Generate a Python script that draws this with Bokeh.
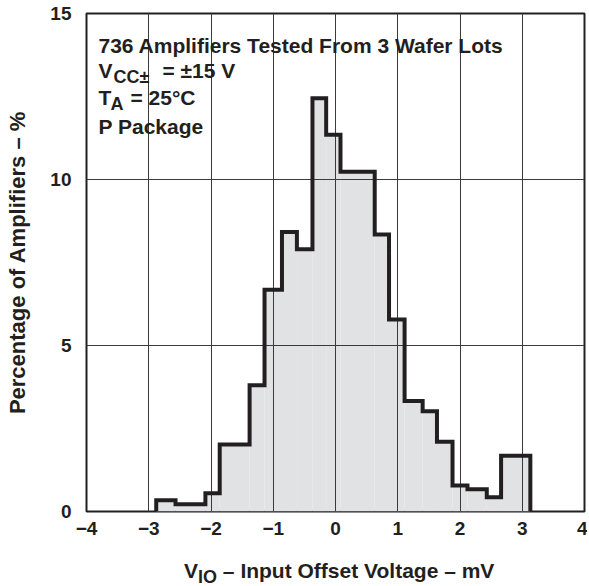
from bokeh.plotting import figure
from bokeh.models import Label, FixedTicker, Div
from bokeh.layouts import column
from bokeh.embed import file_html
from bokeh.resources import INLINE

# ---- data ----
bin_edges = [-2.88, -2.57, -2.09, -1.86, -1.38, -1.14, -0.86, -0.62, -0.37, -0.15,
             0.08, 0.63, 0.86, 1.11, 1.40, 1.63, 1.88, 2.12, 2.43, 2.66, 3.13]
percentages = [0.34, 0.22, 0.55, 2.02, 3.80, 6.68, 8.42, 7.90, 12.45, 11.35,
               10.23, 8.34, 5.78, 3.33, 3.02, 2.10, 0.78, 0.67, 0.43, 1.68]
x_ticks = [-4, -3, -2, -1, 0, 1, 2, 3, 4]
x_tick_labels = ["−4", "−3", "−2", "−1", "0", "1", "2", "3", "4"]
y_ticks = [0, 5, 10, 15]
y_tick_labels = ["0", "5", "10", "15"]

INK = "#231f20"
FONT = "Liberation Sans"

p = figure(frame_width=498, frame_height=498,
           min_border_left=86, min_border_right=3,
           min_border_top=13, min_border_bottom=45,
           x_range=(-4, 4), y_range=(0, 15),
           output_backend="svg", toolbar_location=None,
           background_fill_color="white", border_fill_color="white")

p.outline_line_color = INK
p.outline_line_width = 2

for ax in (p.xaxis[0], p.yaxis[0]):
    ax.axis_line_color = None
    ax.major_tick_line_color = None
    ax.minor_tick_line_color = None
    ax.major_label_text_font = FONT
    ax.major_label_text_font_style = "bold"
    ax.major_label_text_font_size = "19px"
    ax.major_label_text_color = INK

p.xaxis[0].ticker = FixedTicker(ticks=x_ticks)
p.xaxis[0].major_label_overrides = dict(zip(x_ticks, x_tick_labels))
p.xaxis[0].major_label_standoff = 4
p.yaxis[0].ticker = FixedTicker(ticks=y_ticks)
p.yaxis[0].major_label_overrides = dict(zip(y_ticks, y_tick_labels))
p.yaxis[0].major_label_standoff = 9

# y axis title through the axis itself
p.yaxis[0].axis_label = "Percentage of Amplifiers – %"
p.yaxis[0].axis_label_text_font = FONT
p.yaxis[0].axis_label_text_font_style = "bold"
p.yaxis[0].axis_label_text_font_size = "22px"
p.yaxis[0].axis_label_text_color = INK
p.yaxis[0].axis_label_standoff = 17

p.xgrid[0].ticker = FixedTicker(ticks=x_ticks)
p.ygrid[0].ticker = FixedTicker(ticks=y_ticks)
for g in (p.xgrid[0], p.ygrid[0]):
    g.grid_line_color = "#3a3a3a"
    g.grid_line_width = 1

# histogram fill
p.quad(left=bin_edges[:-1], right=bin_edges[1:], bottom=0, top=percentages,
       fill_color="#e1e2e4", line_color=None, level="image")

# step outline built from the bins
sx, sy = [bin_edges[0]], [0]
for i, h in enumerate(percentages):
    sx += [bin_edges[i], bin_edges[i + 1]]
    sy += [h, h]
sx.append(bin_edges[-1])
sy.append(0)
p.line(sx, sy, line_color=INK, line_width=4, line_join="miter")


def lab(x, y, s, size, mode="text"):
    kw = dict(x=x, y=y, x_units="screen", y_units="screen", text=s,
              text_font=FONT, text_font_style="bold",
              text_font_size=f"{size}px", text_color=INK,
              text_baseline="alphabetic")
    if mode == "bg":
        kw.update(background_fill_color="white", text_alpha=0.0, padding=3)
    p.add_layout(Label(**kw))


block = [
    (12, 466, "736 Amplifiers Tested From 3 Wafer Lots", 21),
    (12, 441, "V", 21),
    (27, 435, "CC±", 18),
    (76, 441, "= ±15 V", 21),
    (12, 414, "T", 21),
    (24, 408, "A", 18),
    (44, 414, "= 25°C", 21),
    (12, 385, "P Package", 21),
]
# white masks first, then the texts on top
for x, y, s, size in block:
    lab(x, y, s, size, mode="bg")
for x, y, s, size in block:
    lab(x, y, s, size)

# x axis title (with subscript) as real HTML text under the plot
xtitle = Div(
    text=('<div style="padding-left:179px; font-family:\'Liberation Sans\'; '
          'font-weight:bold; font-size:21px; line-height:20px; color:#231f20; '
          'white-space:nowrap;">V<span style="font-size:18px; line-height:18px; '
          'position:relative; top:5px;">IO</span> – Input Offset Voltage – mV</div>'),
    width=587, height=30)

layout = column(p, xtitle, spacing=0)

open("out.html", "w").write(file_html(layout, INLINE))
